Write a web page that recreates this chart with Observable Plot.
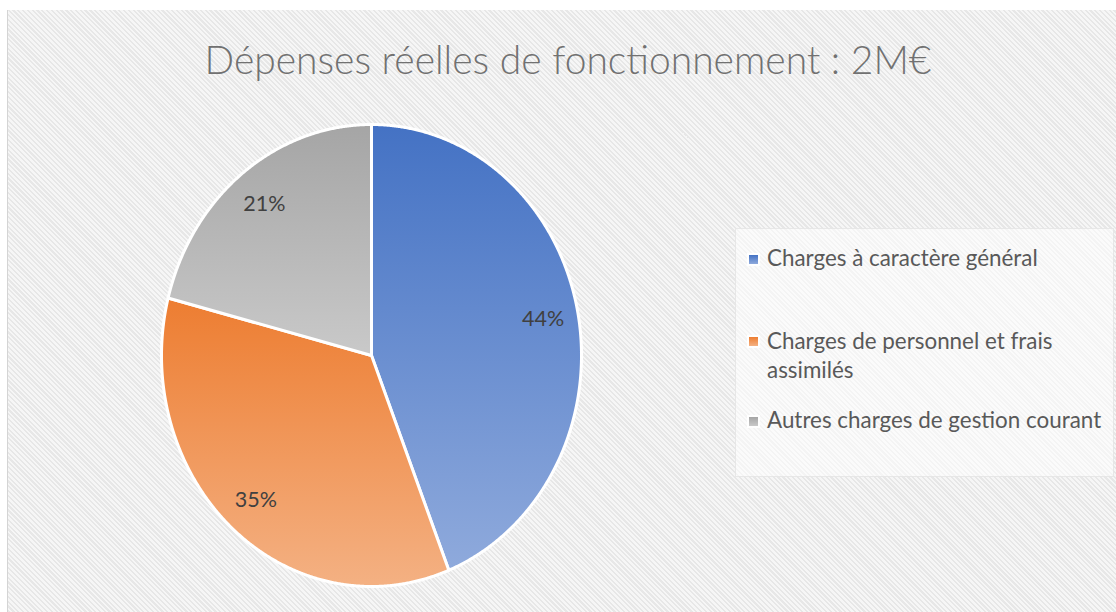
<!DOCTYPE html>
<html>
<head>
<meta charset="utf-8">
<script src="https://cdn.jsdelivr.net/npm/d3@7"></script>
<script src="https://cdn.jsdelivr.net/npm/@observablehq/plot@0.6"></script>
<style>
  html, body { margin: 0; padding: 0; background: #ffffff; }
  body { position: relative; width: 1116px; height: 612px; overflow: hidden; font-family: Lato, "Open Sans", sans-serif; }
  #bg { position: absolute; left: 7px; top: 10px; right: 0; bottom: 0; border-left: 1px solid #d4d4d4;
        background: repeating-linear-gradient(45deg, #e7e7e7 0px, #e7e7e7 1.6px, #f6f6f6 1.6px, #f6f6f6 3.4px); }
  #chart { position: absolute; left: 0; top: 0; }
  #title { position: absolute; left: 0; width: 1116px; text-align: left; white-space: nowrap;
           color: #717171; font-weight: 300; line-height: 1; }
  #legend { position: absolute; left: 735px; top: 228px; width: 379px; height: 249px;
            background: rgba(255,255,255,0.55); border: 1px solid rgba(220,220,220,0.6); box-sizing: border-box; }
  .item { position: absolute; left: 0; color: #595959; white-space: nowrap; }
  .mk { position: absolute; width: 9px; height: 9px; outline: 2px solid #fff; }
</style>
</head>
<body>
<div id="bg"></div>
<div id="chart"></div>
<div id="title"></div>
<div id="legend"></div>
<script>
const titleText = "Dépenses réelles de fonctionnement : 2M€";
const categories = ["Charges à caractère général", "Charges de personnel et frais assimilés", "Autres charges de gestion courant"];
const legendLines = [["Charges à caractère général"], ["Charges de personnel et frais", "assimilés"], ["Autres charges de gestion courant"]];
const values = [44, 35, 21];
const labels = ["44%", "35%", "21%"];
const topColors = ["#4472C4", "#ED7D31", "#A5A5A5"];
const bottomColors = ["#8FAADC", "#F4B183", "#C9C9C9"];

// layout (page pixels)
const cx = 371, cy = 355, rx = 210, ry = 231;

const arcs = d3.pie().sort(null).value(d => d)(values);
const slices = arcs.map((a, i) => {
  const pts = [{x: 0, y: 0}];
  const n = Math.ceil((a.endAngle - a.startAngle) / 0.005);
  for (let k = 0; k <= n; k++) {
    const t = a.startAngle + (a.endAngle - a.startAngle) * k / n;
    pts.push({x: Math.sin(t), y: -Math.cos(t)});
  }
  pts.push({x: 0, y: 0});
  return pts;
});
const labelR = 0.832;
const labelData = arcs.map((a, i) => {
  const m = (a.startAngle + a.endAngle) / 2;
  return {x: labelR * Math.sin(m), y: -labelR * Math.cos(m), text: labels[i]};
});

function defsMark() {
  const defs = d3.create("svg:defs");
  topColors.forEach((c, i) => {
    const lg = defs.append("linearGradient").attr("id", "sliceGrad" + i)
      .attr("x1", 0).attr("y1", 0).attr("x2", 0).attr("y2", 1);
    lg.append("stop").attr("offset", "0%").attr("stop-color", c);
    lg.append("stop").attr("offset", "100%").attr("stop-color", bottomColors[i]);
  });
  return defs.node();
}

const plot = Plot.plot({
  width: 1116, height: 612, margin: 0,
  style: {background: "transparent", overflow: "visible"},
  x: {domain: [-1, 1], range: [cx - rx, cx + rx], axis: null},
  y: {domain: [-1, 1], range: [cy - ry, cy + ry], axis: null},
  marks: [
    defsMark,
    ...slices.map((pts, i) => Plot.line(pts, {x: "x", y: "y", fill: `url(#sliceGrad${i})`, stroke: "#ffffff", strokeWidth: 3, strokeLinejoin: "round"})),
    Plot.text(labelData, {x: "x", y: "y", text: "text", fontSize: 21.5, fontFamily: "Lato, 'Open Sans', sans-serif", fill: "#404040"})
  ]
});
document.getElementById("chart").appendChild(plot);

// title
const titleFont = 39;
const title = document.getElementById("title");
title.textContent = titleText;
title.style.fontSize = titleFont + "px";
title.style.textAlign = "center";
title.style.left = (568 - 558) + "px";
title.style.top = (75 - 0.887 * titleFont) + "px";

// legend
const legend = document.getElementById("legend");
const legFont = 22.4, lineH = 29;
const baselines = [265, 348, 427];
const markerCenters = [258, 340, 420];
legendLines.forEach((lines, i) => {
  const mk = document.createElement("div");
  mk.className = "mk";
  mk.style.left = (748 - 735) + "px";
  mk.style.top = (markerCenters[i] - 4.5 - 228) + "px";
  mk.style.background = `linear-gradient(${topColors[i]}, ${bottomColors[i]})`;
  legend.appendChild(mk);
  const it = document.createElement("div");
  it.className = "item";
  it.style.left = (766 - 735) + "px";
  it.style.fontSize = legFont + "px";
  it.style.lineHeight = lineH + "px";
  it.style.top = (baselines[i] - (lineH / 2 + 0.387 * legFont) - 228) + "px";
  it.innerHTML = lines.join("<br>");
  legend.appendChild(it);
});
</script>
</body>
</html>
